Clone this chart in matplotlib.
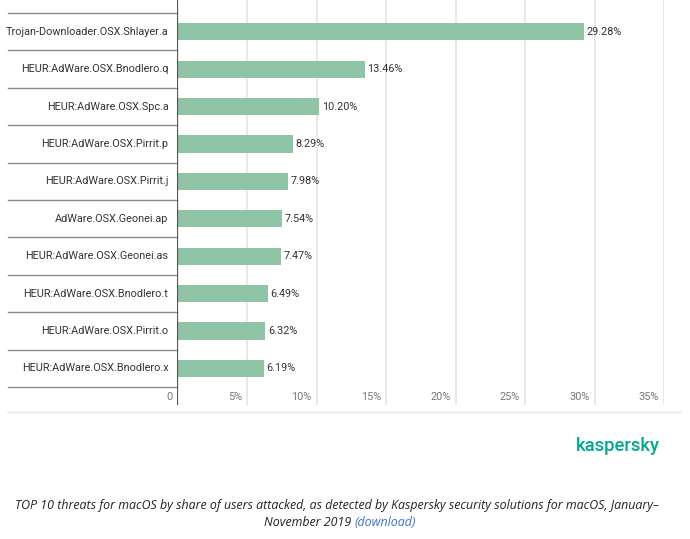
import matplotlib
matplotlib.use('Agg')
import matplotlib.pyplot as plt
import matplotlib.transforms as mtransforms

# 데이터
threats = [
    'Trojan-Downloader.OSX.Shlayer.a',
    'HEUR:AdWare.OSX.Bnodlero.q',
    'HEUR:AdWare.OSX.Spc.a',
    'HEUR:AdWare.OSX.Pirrit.p',
    'HEUR:AdWare.OSX.Pirrit.j',
    'AdWare.OSX.Geonei.ap',
    'HEUR:AdWare.OSX.Geonei.as',
    'HEUR:AdWare.OSX.Bnodlero.t',
    'HEUR:AdWare.OSX.Pirrit.o',
    'HEUR:AdWare.OSX.Bnodlero.x',
]
shares = [29.28, 13.46, 10.20, 8.29, 7.98, 7.54, 7.47, 6.49, 6.32, 6.19]
ticks = [0, 5, 10, 15, 20, 25, 30, 35]
tick_labels = ['0', '5%', '10%', '15%', '20%', '25%', '30%', '35%']

bar_color = '#8fc4a6'
text_color = '#333333'
tick_color = '#777777'
grid_color = '#e4e4e4'

plt.rcParams['font.family'] = ['Roboto', 'DejaVu Sans']

fig = plt.figure(figsize=(6.9, 5.39), dpi=100)
W, H = 690, 539
# 축 영역 (픽셀 기준)
ax_left, ax_right = 177.5, 664
ax_top, ax_bottom = 0, 405
ax = fig.add_axes([ax_left / W, 1 - ax_bottom / H,
                   (ax_right - ax_left) / W, (ax_bottom - ax_top) / H])

y = list(range(len(threats)))
ax.barh(y, shares, height=0.46, color=bar_color, zorder=2)
ax.set_xlim(0, 35)
ax.set_ylim(9.98, -0.85)

for t in ticks[1:]:
    ax.axvline(t, color=grid_color, lw=1.2, zorder=1)
ax.axvline(0, color='#555555', lw=1.6, zorder=3)

for s in ax.spines.values():
    s.set_visible(False)
ax.set_xticks([])
ax.set_yticks([])

# 행 구분선 (라벨 영역)
blend = mtransforms.blended_transform_factory(ax.transAxes, ax.transData)
x0 = (8 - ax_left) / (ax_right - ax_left)
for b in [i - 0.5 for i in range(len(threats) + 1)]:
    ax.plot([x0, 0], [b, b], transform=blend, color='#8a8a8a', lw=1.0,
            clip_on=False, zorder=1)

# 라벨
lab_off = mtransforms.ScaledTranslation(-9 / 100, 0, fig.dpi_scale_trans)
val_off = mtransforms.ScaledTranslation(2.5 / 100, 0, fig.dpi_scale_trans)
for i, (name, v) in enumerate(zip(threats, shares)):
    ax.text(0, i, name, transform=ax.transData + lab_off, ha='right',
            va='center', fontsize=7.8, color=text_color)
    ax.text(v, i, f'{v:.2f}%', transform=ax.transData + val_off, ha='left',
            va='center', fontsize=7.8, color=text_color)

tick_off = mtransforms.ScaledTranslation(-5 / 100, 0, fig.dpi_scale_trans)
for t, lab in zip(ticks, tick_labels):
    ax.text(t, 9.77, lab, transform=ax.transData + tick_off, ha='right',
            va='center', fontsize=7.8, color=tick_color)

# 하단 구분선
fig.add_artist(plt.Line2D([8 / W, 680 / W], [1 - 412 / H, 1 - 412 / H],
                          color='#eeeeee', lw=1.8))

fig.text(660 / W, 1 - 446 / H, 'kaspersky', ha='right', va='center',
         fontsize=13.3, color='#00a88e', fontweight='medium')

cap_font = ['Open Sans', 'DejaVu Sans']
fig.text(337 / W, 1 - 506 / H,
         'TOP 10 threats for macOS by share of users attacked, as detected by '
         'Kaspersky security solutions for macOS, January\u2013',
         ha='center', va='center', fontsize=8.9, style='italic',
         color='#222222', family=cap_font)
t1 = fig.text(0, 1 - 523 / H, 'November 2019 ', ha='left', va='center',
              fontsize=8.9, style='italic', color='#222222', family=cap_font)
t2 = fig.text(0, 1 - 523 / H, '(download)', ha='left', va='center',
              fontsize=8.9, style='italic', color='#3a6fcf', family=cap_font)

# 두번째 줄 가운데 정렬
fig.canvas.draw()
r = fig.canvas.get_renderer()
w1 = t1.get_window_extent(r).width
w2 = t2.get_window_extent(r).width
start = 340 - (w1 + w2) / 2
t1.set_x(start / W)
t2.set_x((start + w1) / W)

fig.savefig('out.png', dpi=100)
